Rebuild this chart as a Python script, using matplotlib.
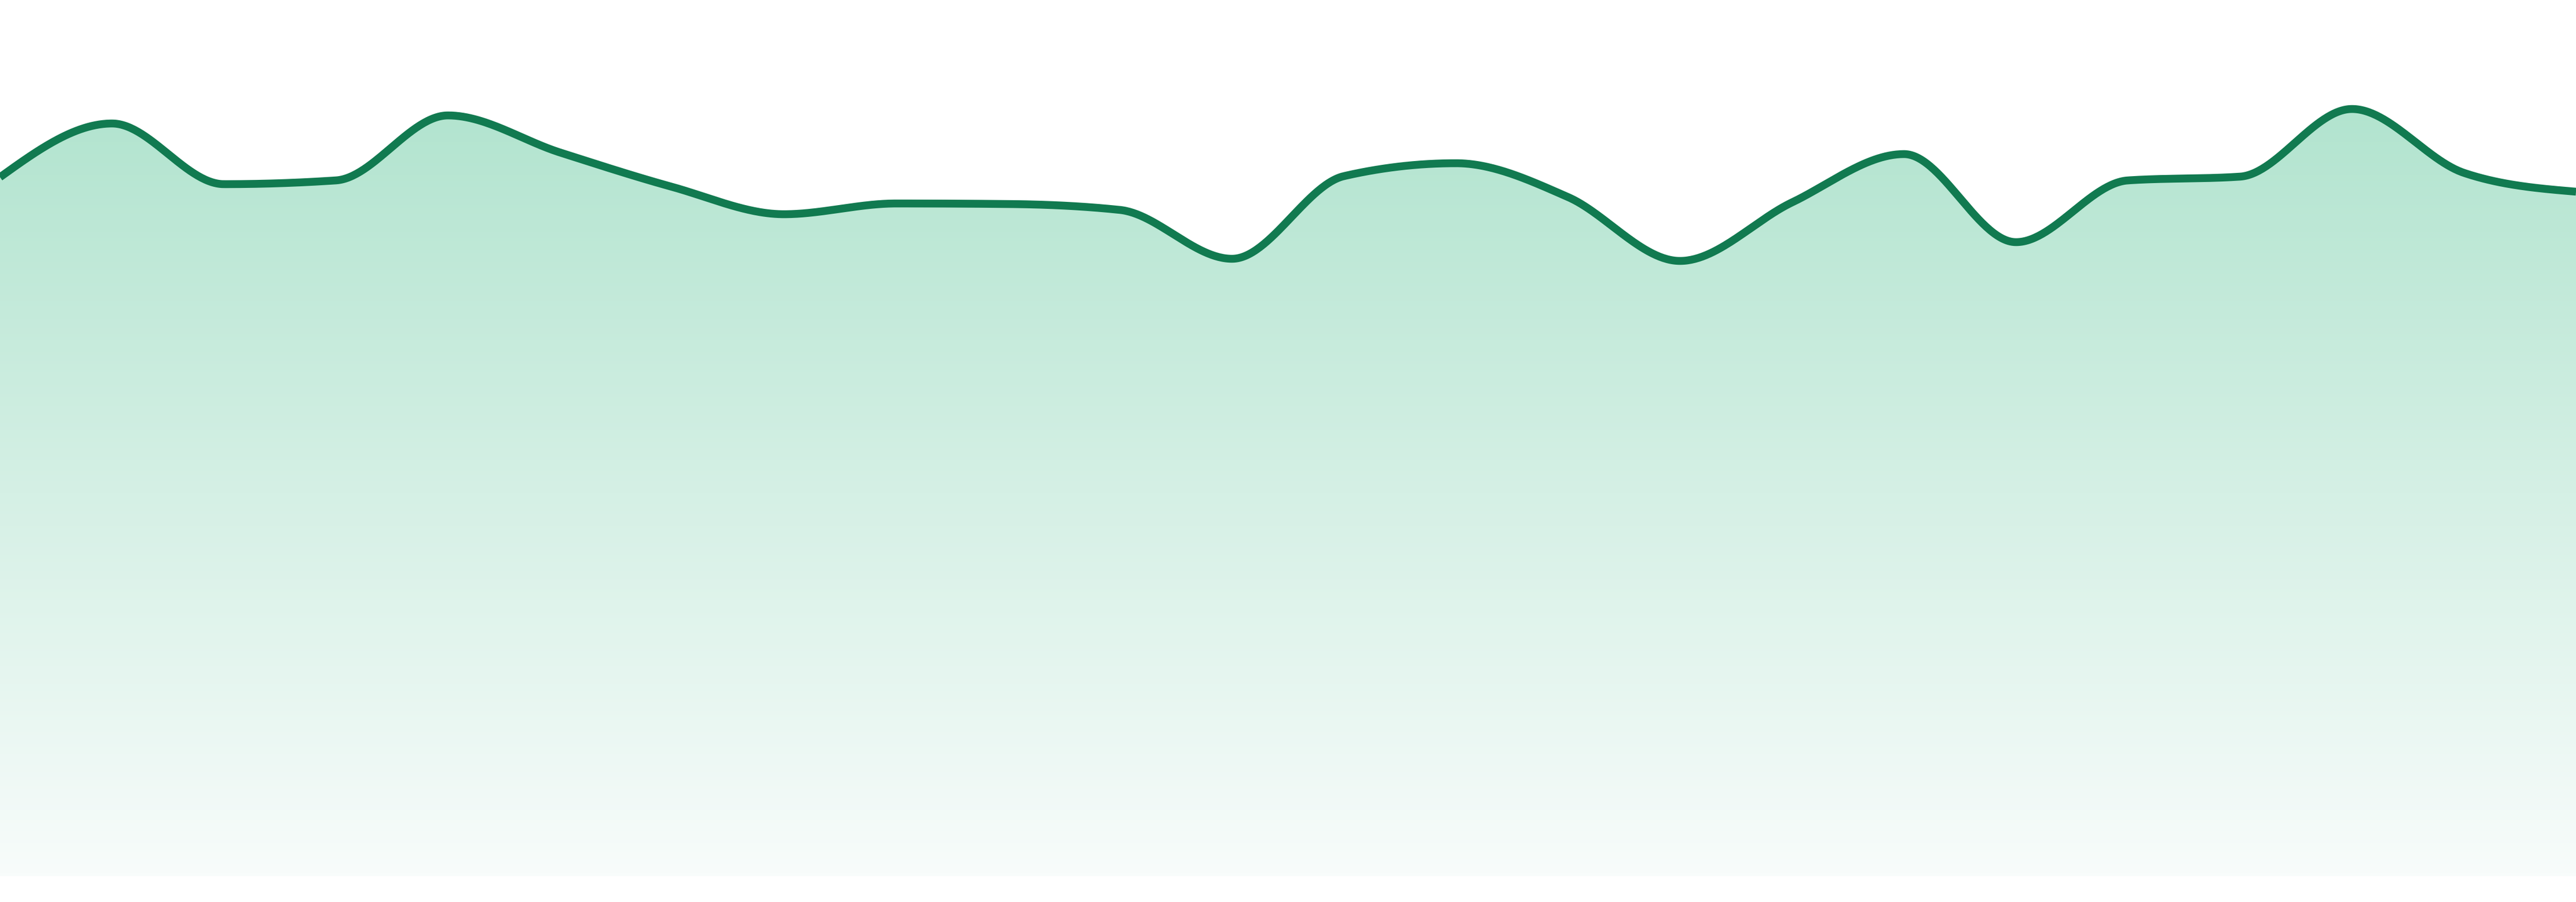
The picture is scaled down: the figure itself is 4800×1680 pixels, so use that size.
import numpy as np
import matplotlib
matplotlib.use("Agg")
import matplotlib.pyplot as plt
from matplotlib.colors import LinearSegmentedColormap

# values, one per evenly spaced point
values = [130.2, 140.2, 128.9, 129.6, 141.7, 134.8, 128.4, 123.3,
          125.3, 125.2, 124.1, 115.0, 130.4, 132.8, 126.5, 114.6,
          125.5, 134.5, 118.1, 129.6, 130.3, 142.9, 131.0, 127.5]
x = np.arange(len(values), dtype=float)
y = np.array(values, dtype=float)

line_color = "#117a50"
fill_top = "#b2e4cf"
fill_bottom = "#f8fcfb"


def monotone_x(xs, ys, per_seg=60):
    # monotone cubic like d3.curveMonotoneX
    h = np.diff(xs)
    s = np.diff(ys) / h
    n = len(xs)
    m = np.zeros(n)
    for i in range(1, n - 1):
        s0, s1 = s[i - 1], s[i]
        p = (s0 * h[i] + s1 * h[i - 1]) / (h[i - 1] + h[i])
        m[i] = (np.sign(s0) + np.sign(s1)) * min(abs(s0), abs(s1), 0.5 * abs(p))
    m[0] = (3 * s[0] - m[1]) / 2
    m[-1] = (3 * s[-1] - m[-2]) / 2
    xo, yo = [], []
    for i in range(n - 1):
        t = np.linspace(0, 1, per_seg, endpoint=(i == n - 2))
        h00 = 2 * t**3 - 3 * t**2 + 1
        h10 = t**3 - 2 * t**2 + t
        h01 = -2 * t**3 + 3 * t**2
        h11 = t**3 - t**2
        xo.append(xs[i] + t * h[i])
        yo.append(h00 * ys[i] + h10 * h[i] * m[i] + h01 * ys[i + 1] + h11 * h[i] * m[i + 1])
    return np.concatenate(xo), np.concatenate(yo)


xs, ys = monotone_x(x, y)

fig = plt.figure(figsize=(16, 5.6), dpi=300)
ax = fig.add_axes([0, 0, 1, 1])
ax.set_xlim(x[0], x[-1])
ax.set_ylim(-4.8, 163.2)
ax.axis("off")

poly = ax.fill_between(xs, 0, ys, color="none", lw=0)
top = ys.max()
cmap = LinearSegmentedColormap.from_list("grad", [fill_bottom, fill_top])
grad = np.linspace(0, 1, 256).reshape(-1, 1)
img = ax.imshow(grad, cmap=cmap, origin="lower", aspect="auto",
                extent=[x[0], x[-1], 0, top], zorder=1)
img.set_clip_path(poly.get_paths()[0], transform=ax.transData)

ax.plot(xs, ys, color=line_color, lw=3.5, solid_capstyle="butt", zorder=2)

fig.savefig("out.png", dpi=300, facecolor="white")
